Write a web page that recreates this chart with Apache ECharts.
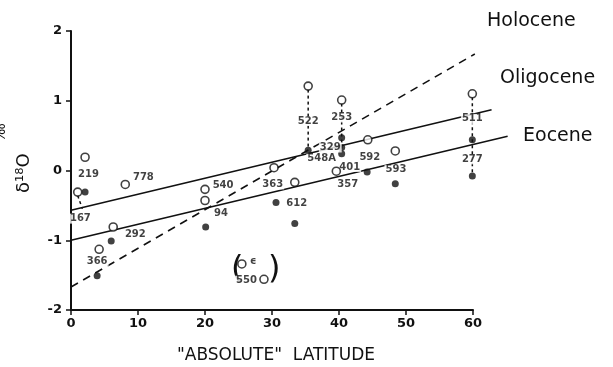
<!DOCTYPE html>
<html><head><meta charset="utf-8">
<script src="https://cdn.jsdelivr.net/npm/echarts@6/dist/echarts.min.js"></script>
<style>html,body{margin:0;padding:0;background:#fff}#c{width:613px;height:367px}</style>
</head><body><div id="c"></div>
<script>
// ---- data (latitude, delta 18O) ----
const xTicks = [0, 10, 20, 30, 40, 50, 60];
const yTicks = [-2, -1, 0, 1, 2];
const openPts = [[1.0,-0.31],[2.1,0.19],[8.1,-0.20],[6.3,-0.81],[4.2,-1.13],[35.4,1.21],[40.4,1.01],[44.3,0.44],[39.6,-0.01],[33.4,-0.17],[30.3,0.04],[20.0,-0.27],[20.0,-0.43],[48.4,0.28],[59.9,1.10],[25.5,-1.34],[28.8,-1.56]];
const filledPts = [[2.1,-0.31],[6.0,-1.01],[3.9,-1.51],[35.4,0.29],[40.4,0.47],[40.4,0.33],[40.4,0.24],[44.2,-0.02],[30.6,-0.46],[33.4,-0.76],[20.1,-0.81],[48.4,-0.19],[59.9,0.44],[59.9,-0.08]];
const siteLabels = [[2.6,-0.06,'219'],[1.4,-0.69,'167'],[10.8,-0.10,'778'],[9.6,-0.91,'292'],[3.9,-1.31,'366'],[35.4,0.71,'522'],[40.4,0.76,'253'],[38.7,0.33,'329'],[37.4,0.17,'548A'],[44.6,0.19,'592'],[41.6,0.05,'401'],[41.3,-0.20,'357'],[30.1,-0.20,'363'],[33.7,-0.47,'612'],[22.7,-0.22,'540'],[22.4,-0.61,'94'],[48.5,0.01,'593'],[59.9,0.74,'511'],[59.9,0.16,'277'],[26.2,-1.58,'550'],[27.2,-1.31,'ϵ']];
const connectors = [[[35.4,1.16],[35.4,0.32]],[[40.4,0.96],[40.4,0.28]],[[59.9,1.05],[59.9,-0.05]],[[1.0,-0.36],[1.7,-0.55]]];
const eoceneLine = [[0,-1.0],[65.2,0.49]];
const oligoceneLine = [[0,-0.57],[62.8,0.87]];
const holoceneLine = [[0,-1.67],[60.3,1.67]];
const lineNames = ['Holocene','Oligocene','Eocene'];

const chart = echarts.init(document.getElementById('c'));
const tickFont = {fontFamily:'DejaVu Sans', fontWeight:'bold', fontSize:13, color:'#111'};
const series = [];
connectors.forEach(seg => series.push({type:'line', data:seg, symbol:'none', silent:true,
  lineStyle:{color:'#111', width:1.5, type:[3,3]}, z:1}));
// trend lines on an overlay grid with the same scale but extended x range
series.push({type:'line', xAxisIndex:1, yAxisIndex:1, data:eoceneLine, symbol:'none', lineStyle:{color:'#111', width:1.6}, z:2});
series.push({type:'line', xAxisIndex:1, yAxisIndex:1, data:oligoceneLine, symbol:'none', lineStyle:{color:'#111', width:1.6}, z:2});
series.push({type:'line', xAxisIndex:1, yAxisIndex:1, data:holoceneLine, symbol:'none', lineStyle:{color:'#111', width:1.6, type:[8,6]}, z:2});
series.push({type:'scatter', data:openPts, symbol:'circle', symbolSize:8,
  itemStyle:{color:'#fff', borderColor:'#111', borderWidth:1.6}, z:7});
series.push({type:'scatter', data:filledPts, symbol:'circle', symbolSize:7,
  itemStyle:{color:'#111'}, z:5});
series.push({type:'scatter', data:siteLabels.map(d => [d[0], d[1], d[2]]), symbolSize:0, z:6,
  label:{show:true, position:'inside', formatter:p => p.value[2], fontFamily:'DejaVu Sans', fontWeight:'bold',
    fontSize:10, color:'#111', backgroundColor:'#fff', padding:[0,1]}});

chart.setOption({
  animation:false,
  backgroundColor:'#fff',
  grid:[{left:71, right:140, top:31, bottom:57},{left:71, right:100, top:31, bottom:57}],
  xAxis:[{type:'value', gridIndex:0, min:xTicks[0], max:xTicks[xTicks.length-1], interval:10,
    splitLine:{show:false},
    axisLine:{onZero:false, lineStyle:{color:'#111', width:2}},
    axisTick:{length:5, lineStyle:{color:'#111', width:1.5}},
    axisLabel:Object.assign({margin:7}, tickFont)},
    {type:'value', gridIndex:1, min:0, max:66, show:false}],
  yAxis:[{type:'value', gridIndex:0, min:yTicks[0], max:yTicks[yTicks.length-1], interval:1,
    splitLine:{show:false},
    axisLine:{show:true, onZero:false, lineStyle:{color:'#111', width:2}},
    axisTick:{show:true, length:5, lineStyle:{color:'#111', width:1.5}},
    axisLabel:Object.assign({margin:9}, tickFont)},
    {type:'value', gridIndex:1, min:-2, max:2, show:false}],
  graphic:[
    {type:'text', x:177, y:356, style:{text:'"ABSOLUTE"  LATITUDE', font:'17px "DejaVu Sans"', fill:'#111', textVerticalAlign:'middle'}},
    {type:'text', x:487, y:12, style:{text:lineNames[0], font:'19px "DejaVu Sans"', fill:'#111'}},
    {type:'text', x:500, y:69, style:{text:lineNames[1], font:'19px "DejaVu Sans"', fill:'#111'}},
    {type:'text', x:523, y:127, style:{text:lineNames[2], font:'19px "DejaVu Sans"', fill:'#111'}},
    {type:'text', x:15, y:193, rotation:Math.PI/2, style:{text:'δ¹⁸O', font:'18px "DejaVu Sans"', fill:'#111'}},
    {type:'text', x:-6, y:142, rotation:Math.PI/2, style:{text:'‰', font:'14px "DejaVu Sans"', fill:'#111'}},
    {type:'text', x:231, y:254, style:{text:'(', font:'32px "DejaVu Sans"', fill:'#111'}},
    {type:'text', x:268, y:254, style:{text:')', font:'32px "DejaVu Sans"', fill:'#111'}}
  ],
  series:series
});
</script></body></html>
